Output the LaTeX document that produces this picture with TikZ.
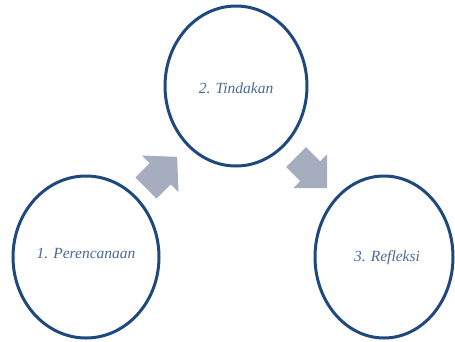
\documentclass[tikz,border=0pt]{standalone}
\usepackage{fontspec}
\setmainfont{Liberation Serif}
\definecolor{ringblue}{HTML}{1F497D}
\definecolor{textblue}{HTML}{4A6A98}
\definecolor{arrowgrey}{HTML}{A6ADBF}
\begin{document}
\begin{tikzpicture}[x=1pt,y=-1pt,
  ring/.style={draw=ringblue,line width=3pt,fill=white},
  lbl/.style={text=textblue,inner sep=0pt,font=\itshape\fontsize{15.5}{18}\selectfont},
  blockarrow/.style={fill=arrowgrey,draw=none}]
\useasboundingbox (0,0) rectangle (455,341);
% circles
\draw[ring] (86,257) ellipse [x radius=73,y radius=81];
\draw[ring] (236,86) ellipse [x radius=71,y radius=80];
\draw[ring] (384,257) ellipse [x radius=69,y radius=81];
% labels
\node[lbl] (p1) at (86,253) {1. Perencanaan};
\node[lbl] (p2) at (236,88) {2. Tindakan};
\node[lbl] (p3) at (387,258) {3. Refleksi};
% block arrows
\begin{scope}[shift={(146,188)},rotate=45]
\fill[blockarrow] (0,-15) -- (20,-15) -- (20,-26) -- (44,0) -- (20,26) -- (20,15) -- (0,15) -- cycle;
\end{scope}
\begin{scope}[shift={(296,157)},rotate=-45]
\fill[blockarrow] (0,-14) -- (20,-14) -- (20,-24) -- (44,0) -- (20,24) -- (20,14) -- (0,14) -- cycle;
\end{scope}
\end{tikzpicture}
\end{document}
